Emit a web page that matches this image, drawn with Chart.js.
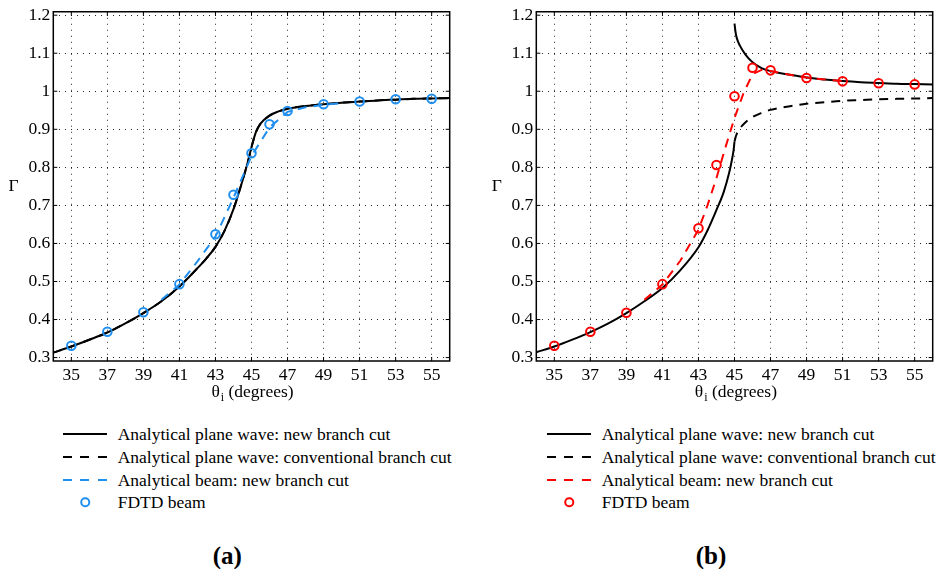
<!DOCTYPE html>
<html>
<head>
<meta charset="utf-8">
<script src="https://cdn.jsdelivr.net/npm/chart.js@4.4.0/dist/chart.umd.min.js"></script>
<style>
body { margin: 0; background: #fff; width: 940px; height: 569px; overflow: hidden; position: relative;
       font-family: "Liberation Serif", "Times New Roman", serif; color: #000; }
canvas { position: absolute; top: 0; }
#chartA { left: 0; }
#chartB { left: 483.4px; }
.lab { position: absolute; font-size: 17.5px; line-height: 20px; white-space: nowrap; transform: translate(-50%, -50%); }
.lab sub { font-size: 12px; position: relative; top: 4px; vertical-align: baseline; margin-left: 1px; }
.panel { position: absolute; font-size: 25px; font-weight: bold; transform: translate(-50%, -50%); }
.txt { position: absolute; font-size: 17.5px; line-height: 20px; white-space: nowrap; transform: translateY(-50%); }
.smp { position: absolute; width: 44px; height: 2px; transform: translateY(-50%); }
.dot { position: absolute; width: 5.5px; height: 5.5px; border-radius: 50%; border: 2px solid; transform: translate(-50%, -50%); }
</style>
</head>
<body>
<canvas id="chartA" width="456" height="400"></canvas>
<canvas id="chartB" width="456" height="400"></canvas>

<div class="lab" style="left:13.5px;top:185px">Γ</div>
<div class="lab" style="left:252.5px;top:392px">θ<sub>i</sub> (degrees)</div>
<div class="lab" style="left:496.9px;top:185px">Γ</div>
<div class="lab" style="left:735.9px;top:392px">θ<sub>i</sub> (degrees)</div>

<!-- legend (a) -->
<div class="smp" style="left:62.7px;top:434px;background:#000"></div>
<div class="txt" style="left:117.7px;top:434px">Analytical plane wave: new branch cut</div>
<div class="smp" style="left:62.7px;top:456.5px;background:repeating-linear-gradient(to right,#000 0 9px,transparent 9px 17.5px)"></div>
<div class="txt" style="left:117.7px;top:456.5px">Analytical plane wave: conventional branch cut</div>
<div class="smp" style="left:62.7px;top:479.5px;background:repeating-linear-gradient(to right,#1f8ff0 0 9px,transparent 9px 17.5px)"></div>
<div class="txt" style="left:117.7px;top:479.5px">Analytical beam: new branch cut</div>
<div class="dot" style="left:85px;top:502px;border-color:#1f8ff0"></div>
<div class="txt" style="left:117.7px;top:502px">FDTD beam</div>
<div class="panel" style="left:227.3px;top:556px">(a)</div>

<!-- legend (b) -->
<div class="smp" style="left:546.7px;top:434px;background:#000"></div>
<div class="txt" style="left:601.7px;top:434px">Analytical plane wave: new branch cut</div>
<div class="smp" style="left:546.7px;top:456.5px;background:repeating-linear-gradient(to right,#000 0 9px,transparent 9px 17.5px)"></div>
<div class="txt" style="left:601.7px;top:456.5px">Analytical plane wave: conventional branch cut</div>
<div class="smp" style="left:546.7px;top:479.5px;background:repeating-linear-gradient(to right,#ff0000 0 9px,transparent 9px 17.5px)"></div>
<div class="txt" style="left:601.7px;top:479.5px">Analytical beam: new branch cut</div>
<div class="dot" style="left:569.3px;top:502px;border-color:#ff0000"></div>
<div class="txt" style="left:601.7px;top:502px">FDTD beam</div>
<div class="panel" style="left:711px;top:556px">(b)</div>

<script>
var xTicks = [35, 37, 39, 41, 43, 45, 47, 49, 51, 53, 55];
var yTicks = [0.3, 0.4, 0.5, 0.6, 0.7, 0.8, 0.9, 1, 1.1, 1.2];

// FDTD sample angles (both panels)
var fdtdX = [35, 37, 39, 41, 43, 44, 45, 46, 47, 49, 51, 53, 55];

// panel (a)
var planeAx = [34, 35, 36, 37, 38, 39, 40, 41, 42, 42.5, 43, 43.5, 44, 44.5, 44.8, 45, 45.25, 45.5, 46, 46.5, 47, 48, 49, 50, 51, 52, 53, 54, 55, 56];
var planeAy = [0.313, 0.329, 0.347, 0.366, 0.39, 0.417, 0.448, 0.487, 0.535, 0.561, 0.591, 0.633, 0.69, 0.765, 0.815, 0.853, 0.893, 0.915, 0.936, 0.947, 0.954, 0.961, 0.966, 0.970, 0.973, 0.976, 0.978, 0.980, 0.981, 0.982];
var beamAx = [40, 41, 42, 43, 44, 45, 46, 47, 48, 49, 50];
var beamAy = [0.452, 0.492, 0.553, 0.618, 0.72, 0.83, 0.905, 0.946, 0.958, 0.964, 0.969];
var fdtdA = [0.331, 0.368, 0.419, 0.493, 0.624, 0.728, 0.837, 0.913, 0.948, 0.966, 0.973, 0.979, 0.980];

// panel (b)
var lowBx = [34, 35, 36, 37, 38, 39, 40, 41, 42, 43, 43.5, 44, 44.4, 44.7, 44.85, 44.95, 45];
var lowBy = [0.314, 0.329, 0.347, 0.367, 0.39, 0.417, 0.448, 0.483, 0.53, 0.59, 0.634, 0.688, 0.735, 0.785, 0.818, 0.845, 0.868];
var upBx = [45, 45.05, 45.12, 45.3, 45.6, 46, 46.5, 47, 48, 49, 50, 51, 52, 53, 54, 55, 56];
var upBy = [1.178, 1.158, 1.141, 1.12, 1.097, 1.076, 1.061, 1.053, 1.044, 1.036, 1.031, 1.027, 1.024, 1.022, 1.020, 1.019, 1.018];
var convBx = [45, 45.1, 45.3, 45.6, 46, 46.5, 47, 48, 49, 50, 51, 52, 53, 54, 55, 56];
var convBy = [0.868, 0.885, 0.902, 0.918, 0.932, 0.943, 0.951, 0.96, 0.967, 0.971, 0.975, 0.977, 0.979, 0.980, 0.981, 0.982];
var beamBx = [40, 41, 42, 43, 43.5, 44, 44.5, 45, 45.5, 46, 46.5, 47, 48, 49, 50, 51];
var beamBy = [0.452, 0.492, 0.555, 0.636, 0.70, 0.772, 0.853, 0.93, 0.995, 1.045, 1.056, 1.053, 1.044, 1.036, 1.031, 1.027];
var fdtdB = [0.331, 0.368, 0.418, 0.493, 0.640, 0.806, 0.987, 1.062, 1.055, 1.035, 1.026, 1.021, 1.018];

var BLUE = '#1f8ff0';
var RED = '#ff0000';
var FONT = { family: 'Liberation Serif', size: 17.5, lineHeight: 1 };

function pts(xs, ys) {
    return xs.map(function (x, i) { return { x: x, y: ys[i] }; });
}

function lineSet(xs, ys, color, dashed, smooth) {
    return {
        data: pts(xs, ys),
        showLine: true,
        borderColor: color,
        borderWidth: 2,
        borderDash: dashed ? [9, 7] : [],
        pointRadius: 0,
        fill: false,
        tension: smooth ? 0.4 : 0,
        cubicInterpolationMode: smooth ? 'monotone' : 'default'
    };
}

function circleSet(xs, ys, color) {
    return {
        data: pts(xs, ys),
        showLine: false,
        pointStyle: 'circle',
        pointRadius: 4.3,
        pointBorderWidth: 2,
        pointBorderColor: color,
        pointBackgroundColor: 'rgba(0,0,0,0)'
    };
}

// box round the plot plus inward ticks, MATLAB style
var boxPlugin = {
    id: 'box',
    afterDraw: function (chart) {
        var ctx = chart.ctx, a = chart.chartArea;
        var sx = chart.scales.x, sy = chart.scales.y;
        ctx.save();
        ctx.strokeStyle = '#000';
        ctx.lineWidth = 1;
        ctx.beginPath();
        xTicks.forEach(function (v) {
            var px = sx.getPixelForValue(v);
            ctx.moveTo(px, a.bottom); ctx.lineTo(px, a.bottom - 4);
            ctx.moveTo(px, a.top); ctx.lineTo(px, a.top + 4);
        });
        yTicks.forEach(function (v) {
            var py = sy.getPixelForValue(v);
            ctx.moveTo(a.left, py); ctx.lineTo(a.left + 4, py);
            ctx.moveTo(a.right, py); ctx.lineTo(a.right - 4, py);
        });
        ctx.stroke();
        ctx.lineWidth = 1.5;
        ctx.strokeRect(a.left, a.top, a.right - a.left, a.bottom - a.top);
        ctx.restore();
    }
};

function makeChart(id, datasets) {
    return new Chart(document.getElementById(id), {
        type: 'scatter',
        data: { datasets: datasets },
        plugins: [boxPlugin],
        options: {
            responsive: false,
            animation: false,
            layout: { padding: { left: 0, right: 4.3, top: 9, bottom: 0 } },
            plugins: { legend: { display: false }, tooltip: { enabled: false } },
            scales: {
                x: {
                    type: 'linear', min: 34, max: 56,
                    afterBuildTicks: function (s) { s.ticks = xTicks.map(function (v) { return { value: v }; }); },
                    afterFit: function (s) { s.height = 39; },
                    grid: { color: 'rgba(0,0,0,0.85)', lineWidth: 1, drawTicks: false },
                    border: { display: false, dash: [1, 5] },
                    ticks: { color: '#000', font: FONT, padding: 6, maxRotation: 0, autoSkip: false }
                },
                y: {
                    type: 'linear', min: 0.291, max: 1.209,
                    afterBuildTicks: function (s) { s.ticks = yTicks.map(function (v) { return { value: v }; }); },
                    afterFit: function (s) { s.width = 53.3; },
                    grid: { color: 'rgba(0,0,0,0.85)', lineWidth: 1, drawTicks: false },
                    border: { display: false, dash: [1, 5] },
                    ticks: {
                        color: '#000', font: FONT, padding: 3, autoSkip: false,
                        callback: function (v) { return String(Math.round(v * 10) / 10); }
                    }
                }
            }
        }
    });
}

// first dataset is drawn on top
makeChart('chartA', [
    circleSet(fdtdX, fdtdA, BLUE),
    lineSet(beamAx, beamAy, BLUE, true, false),
    lineSet(planeAx, planeAy, '#000', false, true),
    lineSet(planeAx, planeAy, '#000', true, true)
]);

makeChart('chartB', [
    circleSet(fdtdX, fdtdB, RED),
    lineSet(beamBx, beamBy, RED, true, false),
    lineSet(lowBx, lowBy, '#000', false, true),
    lineSet(upBx, upBy, '#000', false, true),
    lineSet(convBx, convBy, '#000', true, true)
]);
</script>
</body>
</html>
